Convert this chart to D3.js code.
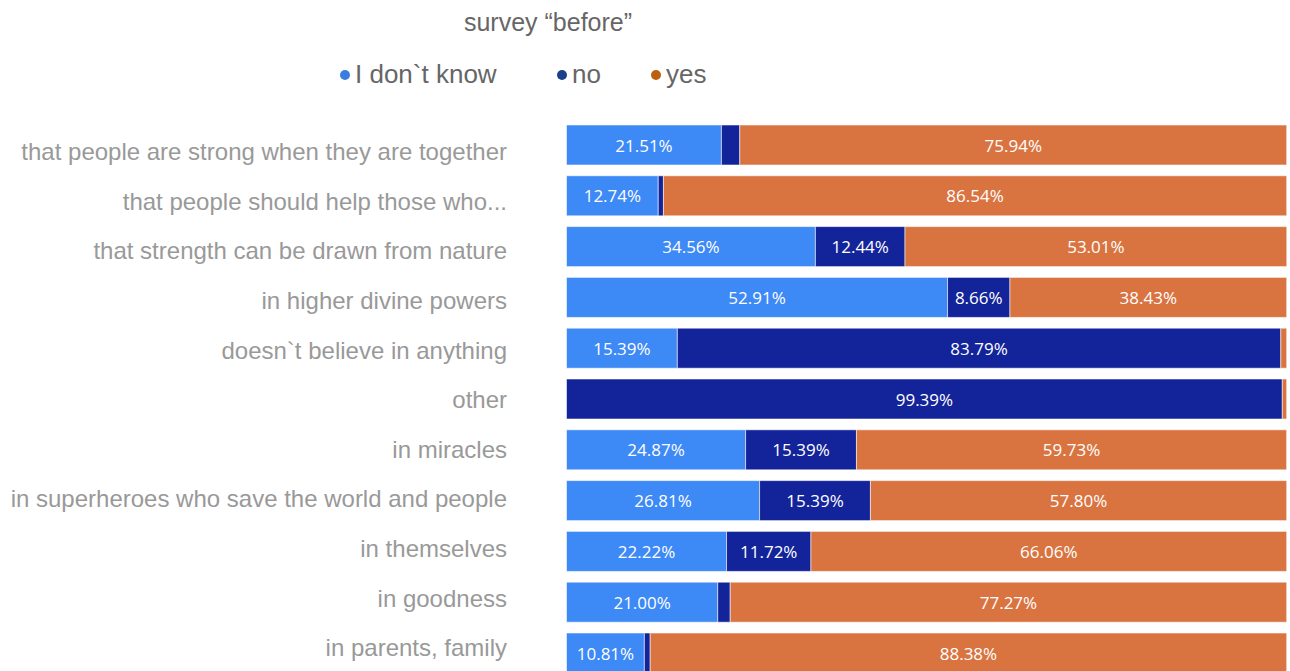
<!DOCTYPE html>
<html>
<head>
<meta charset="utf-8">
<script src="https://cdn.jsdelivr.net/npm/d3@7"></script>
<style>
  html, body { margin: 0; padding: 0; background: #fff; }
  svg { display: block; }
</style>
</head>
<body>
<svg id="chart" width="1290" height="671"></svg>
<script>
// Survey answers, share of respondents per statement (percent)
const categories = [
  "that people are strong when they are together",
  "that people should help those who...",
  "that strength can be drawn from nature",
  "in higher divine powers",
  "doesn`t believe in anything",
  "other",
  "in miracles",
  "in superheroes who save the world and people",
  "in themselves",
  "in goodness",
  "in parents, family"
];
const seriesNames = ["I don`t know", "no", "yes"];
const dontKnow = [21.51, 12.74, 34.56, 52.91, 15.39, 0.00, 24.87, 26.81, 22.22, 21.00, 10.81];
const no       = [2.55, 0.72, 12.44, 8.66, 83.79, 99.39, 15.39, 15.39, 11.72, 1.73, 0.81];
const yes      = [75.94, 86.54, 53.01, 38.43, 0.82, 0.61, 59.73, 57.80, 66.06, 77.27, 88.38];

const barColors = ["#3d89f5", "#13239a", "#d97441"];
const legendColors = ["#3b7ddd", "#1c3f8a", "#bb600c"];

const svg = d3.select("#chart");

const rows = categories.map((c, i) => ({
  cat: c,
  "I don`t know": dontKnow[i],
  "no": no[i],
  "yes": yes[i]
}));

const stack = d3.stack().keys(seriesNames)(rows);

const x = d3.scaleLinear().domain([0, 100]).range([566.5, 1286.7]);
const y = d3.scaleBand()
  .domain(categories)
  .range([119.6, 678.4])
  .paddingInner(0.2126)
  .paddingOuter(0.1063);

// Category labels sit on their own slightly tighter grid
const yLabel = d3.scalePoint().domain(categories).range([152, 648]);

// Title
svg.append("text")
  .attr("x", 548).attr("y", 22)
  .attr("text-anchor", "middle")
  .attr("dominant-baseline", "central")
  .attr("font-family", "Liberation Sans, Arial, sans-serif")
  .attr("font-size", 25)
  .attr("fill", "#666")
  .text("survey \u201cbefore\u201d");

// Legend
const legendX = [345, 562, 656];
const legend = svg.append("g");
seriesNames.forEach((name, i) => {
  legend.append("circle")
    .attr("cx", legendX[i]).attr("cy", 75).attr("r", 5)
    .attr("fill", legendColors[i]);
  legend.append("text")
    .attr("x", legendX[i] + 10).attr("y", 74)
    .attr("dominant-baseline", "central")
    .attr("font-family", "Liberation Sans, Arial, sans-serif")
    .attr("font-size", 26)
    .attr("fill", "#666")
    .text(name);
});

// Category axis labels
const yAxis = d3.axisLeft(yLabel).tickSize(0).tickPadding(0);
const yg = svg.append("g")
  .attr("transform", `translate(507,0)`)
  .call(yAxis);
yg.select(".domain").remove();
yg.selectAll("text")
  .attr("font-family", "Liberation Sans, Arial, sans-serif")
  .attr("font-size", 24)
  .attr("fill", "#999");

// Stacked bars
const layers = svg.append("g").selectAll("g")
  .data(stack)
  .join("g")
  .attr("fill", (d, i) => barColors[i]);

layers.selectAll("rect")
  .data(d => d.map(s => ({ s, cat: s.data.cat })))
  .join("rect")
  .attr("x", d => x(d.s[0]))
  .attr("y", d => y(d.cat))
  .attr("width", d => Math.max(0, x(d.s[1]) - x(d.s[0])))
  .attr("height", y.bandwidth())
  .attr("stroke", "rgba(255,255,255,0.55)")
  .attr("stroke-width", 1);

// Value labels inside segments wide enough to hold them
layers.selectAll("text")
  .data(d => d.map(s => ({ s, cat: s.data.cat, v: s[1] - s[0] })))
  .join("text")
  .filter(d => d.v >= 5)
  .attr("x", d => (x(d.s[0]) + x(d.s[1])) / 2)
  .attr("y", d => y(d.cat) + y.bandwidth() / 2)
  .attr("text-anchor", "middle")
  .attr("dominant-baseline", "central")
  .attr("font-family", "Open Sans, Noto Sans, sans-serif")
  .attr("font-size", 17)
  .attr("fill", "#fff")
  .text(d => d.v.toFixed(2) + "%");
</script>
</body>
</html>
